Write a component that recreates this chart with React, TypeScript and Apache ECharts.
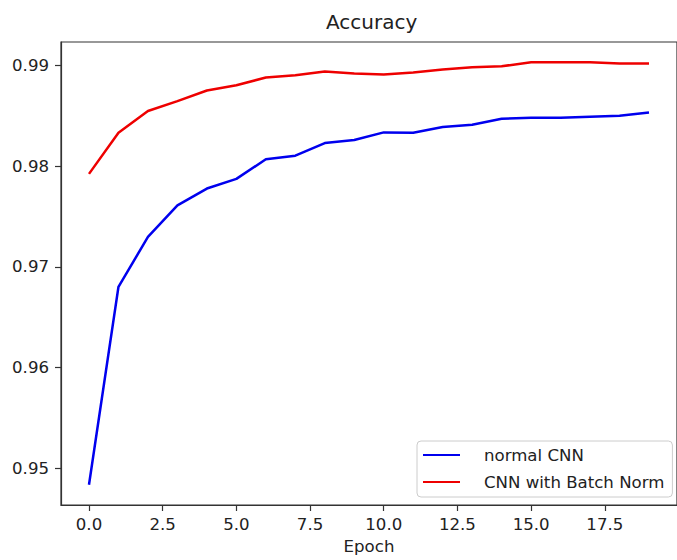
import React, { useEffect, useRef } from "react";
import * as echarts from "echarts";

const epochs = [0, 1, 2, 3, 4, 5, 6, 7, 8, 9, 10, 11, 12, 13, 14, 15, 16, 17, 18, 19];
const normalCNN = [
  0.94835, 0.96802, 0.97297, 0.9761, 0.97778, 0.97874, 0.98069, 0.98105, 0.9823, 0.9826,
  0.98336, 0.98333, 0.98389, 0.98412, 0.98471, 0.98481, 0.98481, 0.98491, 0.98501, 0.98534,
];
const batchNormCNN = [
  0.97924, 0.98333, 0.98548, 0.98647, 0.98752, 0.98805, 0.98881, 0.98904, 0.9894, 0.98921,
  0.98911, 0.98931, 0.9896, 0.98983, 0.98993, 0.99033, 0.99033, 0.99033, 0.9902, 0.9902,
];
const xTicks = [0, 2.5, 5, 7.5, 10, 12.5, 15, 17.5];
const yTicks = [0.95, 0.96, 0.97, 0.98, 0.99];
const seriesNames = ["normal CNN", "CNN with Batch Norm"];

const FONT = "DejaVu Sans";

export default function App() {
  const ref = useRef<HTMLDivElement>(null);
  useEffect(() => {
    if (!ref.current) return;
    const chart = echarts.init(ref.current, null, { renderer: "svg" });
    const toPairs = (arr: number[]) => epochs.map((e, i) => [e, arr[i]]);
    chart.setOption({
      animation: false,
      backgroundColor: "#ffffff",
      title: {
        text: "Accuracy",
        left: 326,
        top: 12,
        padding: 0,
        textStyle: { fontFamily: FONT, fontSize: 20, fontWeight: "normal", color: "#222" },
      },
      grid: {
        left: 61,
        top: 42,
        bottom: 54,
        right: -8,
        show: true,
        borderColor: "#333",
        borderWidth: 1.2,
        backgroundColor: "transparent",
      },
      legend: {
        orient: "vertical",
        left: 417,
        top: 441,
        padding: [4, 8, 5, 6],
        itemGap: 7,
        itemWidth: 56,
        itemHeight: 2,
        icon: "path://M0,0H37V2H0Z M56,0L56,0.01",
        backgroundColor: "#ffffff",
        borderColor: "#cccccc",
        borderWidth: 1,
        borderRadius: 4,
        itemStyle: { borderWidth: 0 },
        textStyle: { fontFamily: FONT, fontSize: 16.6, color: "#222", lineHeight: 20, padding: [0, 0, 0, 0] },
        data: seriesNames,
      },
      xAxis: {
        type: "value",
        min: -0.95,
        max: 19.95,
        name: "Epoch",
        nameLocation: "middle",
        nameGap: 33,
        nameTextStyle: { fontFamily: FONT, fontSize: 16.6, color: "#222" },
        axisLine: { show: true, onZero: false, lineStyle: { color: "#333", width: 1.2 } },
        axisTick: { show: true, length: 6, lineStyle: { color: "#333", width: 1.2 }, customValues: xTicks },
        axisLabel: {
          margin: 11,
          fontFamily: FONT,
          fontSize: 16.6,
          color: "#222",
          customValues: xTicks,
          formatter: (v: number) => v.toFixed(1),
        },
        splitLine: { show: false },
      },
      yAxis: {
        type: "value",
        min: 0.94634,
        max: 0.99234,
        axisLine: { show: true, onZero: false, lineStyle: { color: "#333", width: 1.2 } },
        axisTick: { show: true, length: 6, lineStyle: { color: "#333", width: 1.2 }, customValues: yTicks },
        axisLabel: {
          margin: 12,
          fontFamily: FONT,
          fontSize: 16.6,
          color: "#222",
          customValues: yTicks,
          formatter: (v: number) => v.toFixed(2),
        },
        splitLine: { show: false },
      },
      series: [
        {
          name: seriesNames[0],
          type: "line",
          data: toPairs(normalCNN),
          showSymbol: false,
          symbol: "none",
          color: "#0000ee",
          lineStyle: { color: "#0000ee", width: 2.5 },
        },
        {
          name: seriesNames[1],
          type: "line",
          data: toPairs(batchNormCNN),
          showSymbol: false,
          symbol: "none",
          color: "#ee0000",
          lineStyle: { color: "#ee0000", width: 2.5 },
        },
      ],
    });
    return () => chart.dispose();
  }, []);
  return (
    <div
      ref={ref}
      style={{ position: "fixed", left: 0, top: 0, width: 677, height: 560, background: "#fff" }}
    />
  );
}
